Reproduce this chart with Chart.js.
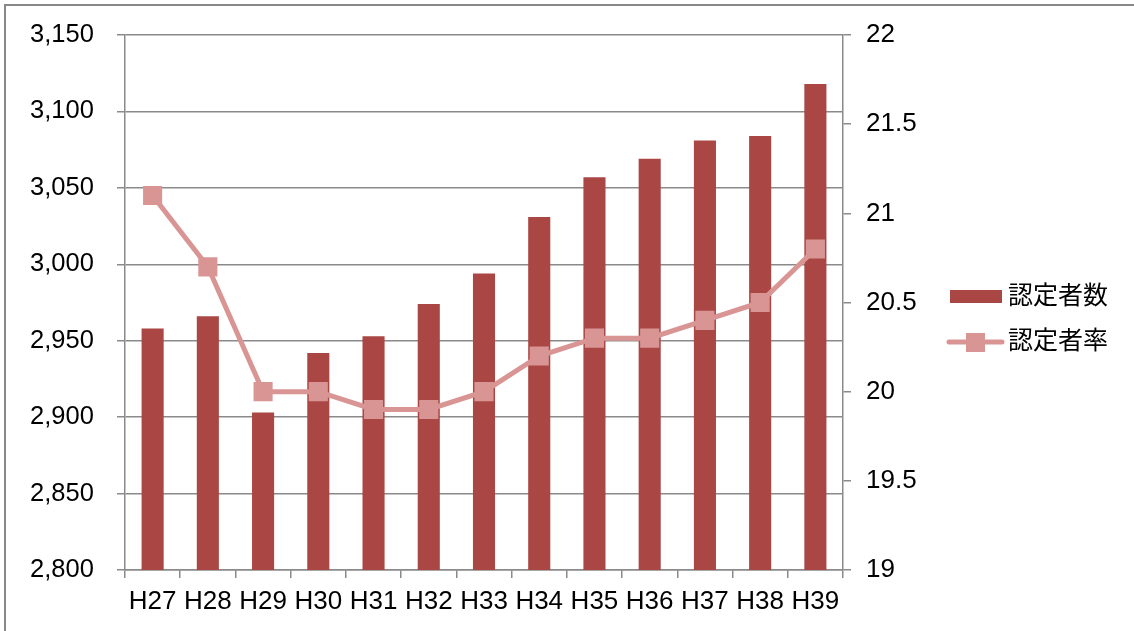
<!DOCTYPE html>
<html>
<head>
<meta charset="utf-8">
<script src="https://cdn.jsdelivr.net/npm/chart.js@4"></script>
<style>
html,body{margin:0;padding:0;background:#fff;overflow:hidden;}
#wrap{position:relative;width:1134px;height:631px;}
#frame{position:absolute;left:4px;top:4px;width:1300px;height:800px;border-left:2px solid #888;border-top:2px solid #888;pointer-events:none;}
canvas{position:absolute;left:0;top:0;}
</style>
</head>
<body>
<div id="wrap">
<canvas id="c" width="1134" height="631"></canvas>
<div id="frame"></div>
</div>
<script>
const categories = ['H27','H28','H29','H30','H31','H32','H33','H34','H35','H36','H37','H38','H39'];
const countLabel = '認定者数';
const rateLabel = '認定者率';
const countValues = [2958, 2966, 2903, 2942, 2953, 2974, 2994, 3031, 3057, 3069, 3081, 3084, 3118];
const rateValues = [21.1, 20.7, 20.0, 20.0, 19.9, 19.9, 20.0, 20.2, 20.3, 20.3, 20.4, 20.5, 20.8];
const leftTicks = {min: 2800, max: 3150, step: 50};
const rightTicks = {min: 19, max: 22, step: 0.5};

const FONT = "'Liberation Sans', Arial, 'Noto Sans CJK JP', sans-serif";
const BAR = '#AA4744';
const LINE = '#D99594';
const GRID = '#8a8a8a';

const legendPlugin = {
  id: 'customLegend',
  afterDraw(chart) {
    const ctx = chart.ctx;
    const ds = chart.data.datasets;
    ctx.save();
    ctx.font = '25px ' + FONT;
    ctx.fillStyle = '#000';
    ctx.textBaseline = 'middle';
    ctx.fillStyle = ds[0].backgroundColor;
    ctx.fillRect(950, 290, 52, 13);
    ctx.fillStyle = '#000';
    ctx.fillText(ds[0].label, 1008, 297);
    ctx.strokeStyle = ds[1].borderColor;
    ctx.lineWidth = 5;
    ctx.lineCap = 'round';
    ctx.beginPath();
    ctx.moveTo(949, 342);
    ctx.lineTo(1002, 342);
    ctx.stroke();
    ctx.fillStyle = ds[1].pointBackgroundColor;
    ctx.fillRect(966, 333, 19, 19);
    ctx.fillStyle = '#000';
    ctx.fillText(ds[1].label, 1008, 342);
    ctx.restore();
  }
};

new Chart(document.getElementById('c'), {
  type: 'bar',
  data: {
    labels: categories,
    datasets: [
      {
        type: 'bar',
        label: countLabel,
        data: countValues,
        backgroundColor: BAR,
        borderWidth: 0,
        barPercentage: 0.4,
        categoryPercentage: 1.0,
        yAxisID: 'y',
        order: 2
      },
      {
        type: 'line',
        label: rateLabel,
        data: rateValues,
        borderColor: LINE,
        backgroundColor: LINE,
        borderWidth: 5,
        pointStyle: 'rect',
        pointRadius: 13.5,
        pointHoverRadius: 13.5,
        pointBackgroundColor: LINE,
        pointBorderColor: LINE,
        pointBorderWidth: 0,
        tension: 0,
        yAxisID: 'y1',
        order: 1
      }
    ]
  },
  options: {
    responsive: false,
    animation: false,
    devicePixelRatio: 1,
    layout: {padding: {top: 35, left: 30, right: 0, bottom: 0}},
    plugins: {legend: {display: false}, tooltip: {enabled: false}},
    scales: {
      x: {
        offset: true,
        afterFit(s) { s.height = 61; },
        grid: {offset: true, drawOnChartArea: false, drawTicks: true, tickLength: 8, color: GRID, lineWidth: 1.5},
        border: {display: true, color: GRID, width: 1.5},
        ticks: {color: '#000', font: {family: FONT, size: 26}, padding: 8, maxRotation: 0, autoSkip: false}
      },
      y: {
        position: 'left',
        min: leftTicks.min,
        max: leftTicks.max,
        afterFit(s) { s.width = 95; },
        grid: {color: GRID, lineWidth: 1.5, tickLength: 8},
        border: {display: true, color: GRID, width: 1.5},
        ticks: {
          stepSize: leftTicks.step,
          color: '#000',
          font: {family: FONT, size: 25.5},
          padding: 0,
          crossAlign: 'far',
          callback: v => v.toLocaleString('en-US')
        }
      },
      y1: {
        position: 'right',
        min: rightTicks.min,
        max: rightTicks.max,
        afterFit(s) { s.width = 291; },
        grid: {drawOnChartArea: false, color: GRID, lineWidth: 1.5, tickLength: 8},
        border: {display: true, color: GRID, width: 1.5},
        ticks: {
          stepSize: rightTicks.step,
          color: '#000',
          font: {family: FONT, size: 26},
          padding: 15,
          callback: v => String(v)
        }
      }
    }
  },
  plugins: [legendPlugin]
});
</script>
</body>
</html>
